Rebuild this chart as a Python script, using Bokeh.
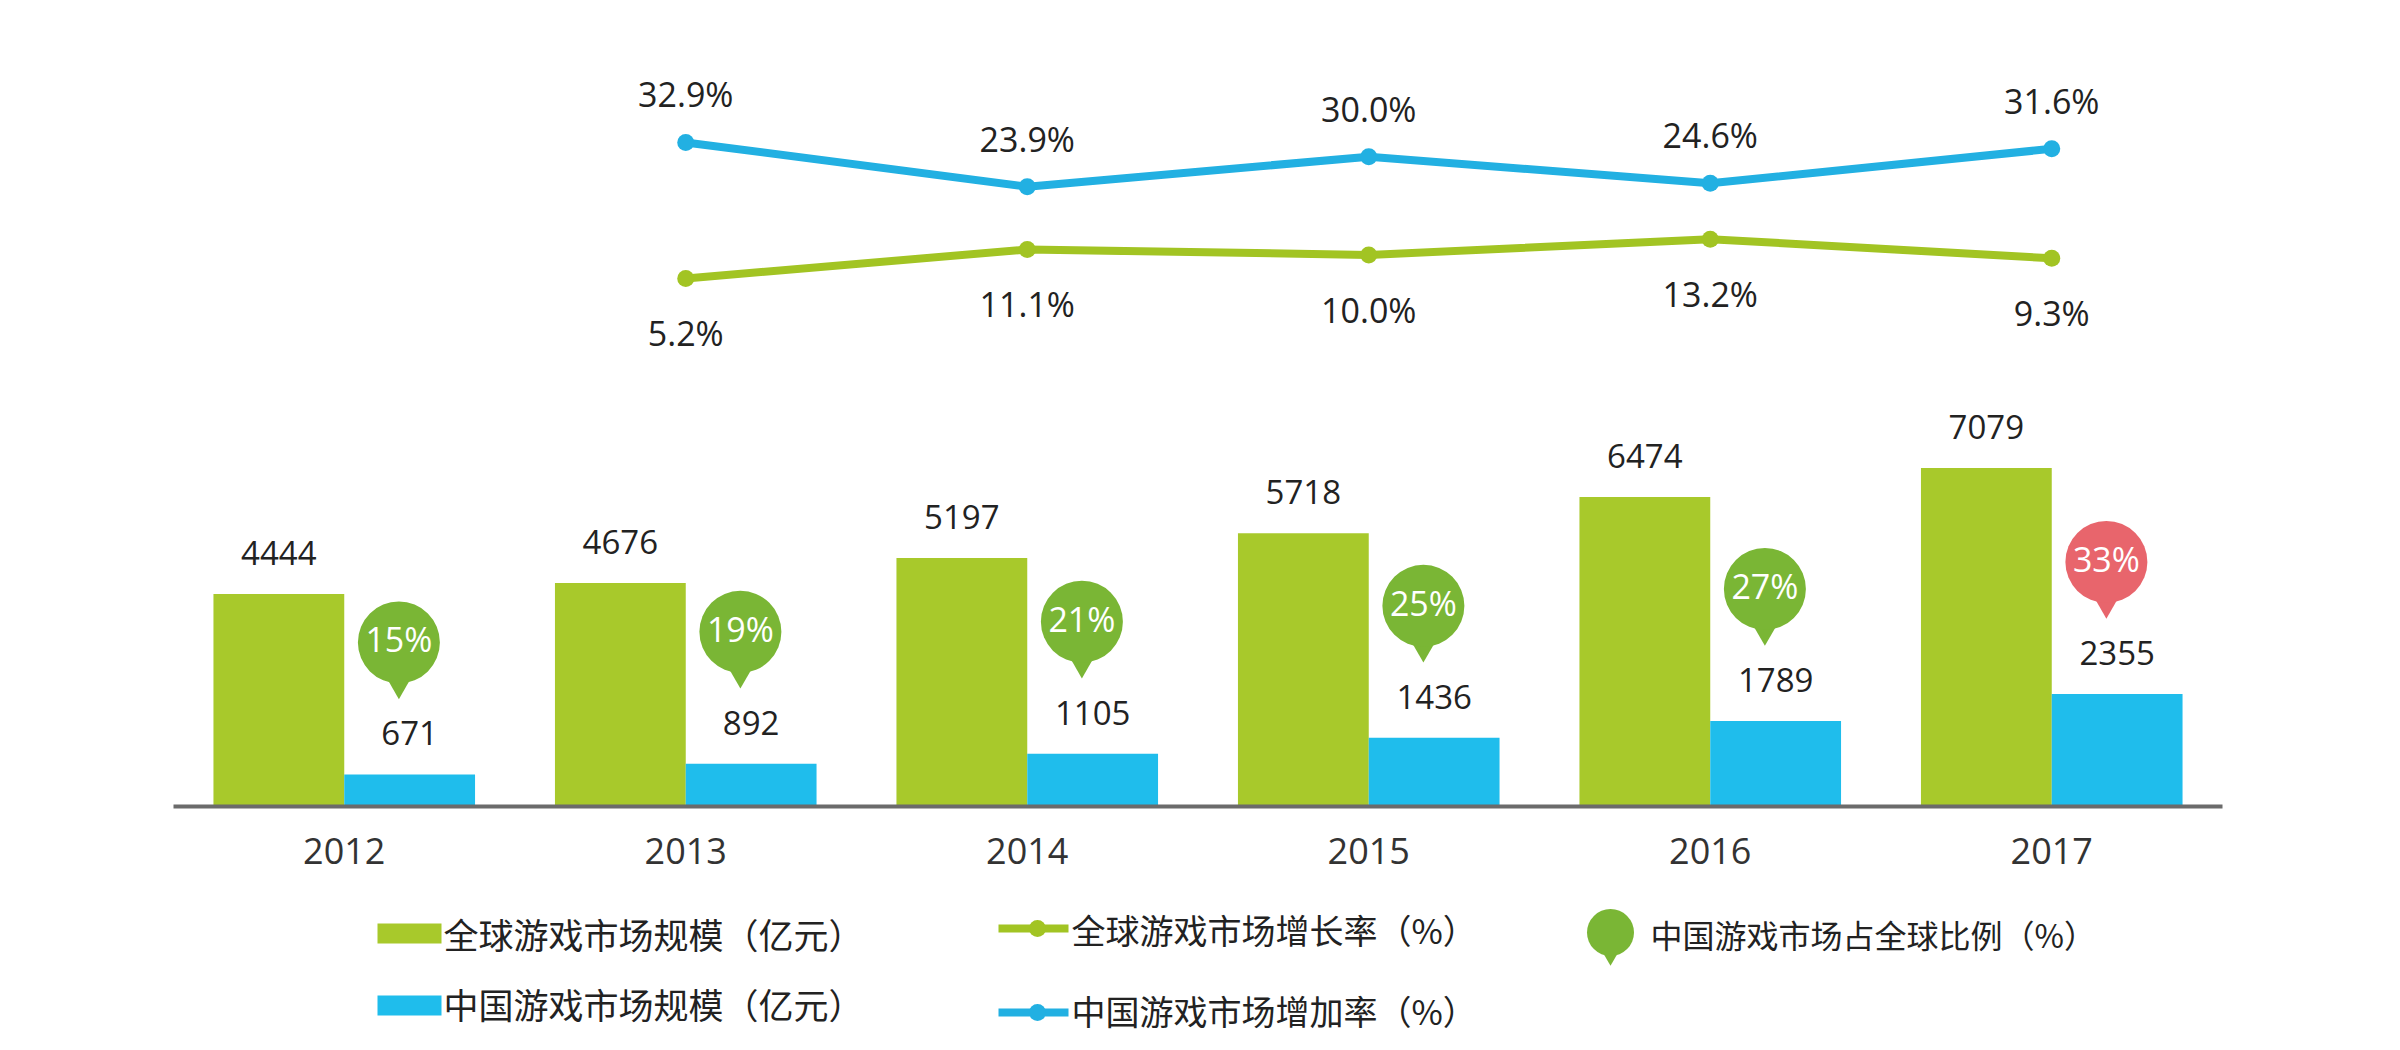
from bokeh.plotting import figure
from bokeh.models import FactorRange, Range1d, ColumnDataSource
from bokeh.transform import dodge
from bokeh.layouts import column
from bokeh.embed import file_html
from bokeh.resources import INLINE
from bokeh.core.properties import value

# ---------------- data ----------------
years = ["2012", "2013", "2014", "2015", "2016", "2017"]
global_market = [4444, 4676, 5197, 5718, 6474, 7079]      # 全球游戏市场规模（亿元）
china_market = [671, 892, 1105, 1436, 1789, 2355]          # 中国游戏市场规模（亿元）
china_share = [15, 19, 21, 25, 27, 33]                     # 中国游戏市场占全球比例（%）
growth_years = ["2013", "2014", "2015", "2016", "2017"]
global_growth = [5.2, 11.1, 10.0, 13.2, 9.3]               # 全球游戏市场增长率（%）
china_growth = [32.9, 23.9, 30.0, 24.6, 31.6]              # 中国游戏市场增加率（%）
legend_labels = ["全球游戏市场规模（亿元）", "中国游戏市场规模（亿元）",
                 "全球游戏市场增长率（%）", "中国游戏市场增加率（%）",
                 "中国游戏市场占全球比例（%）"]

# ---------------- style ----------------
GREEN_BAR = "#A8C92B"
BLUE_BAR = "#1FBDEC"
GREEN_LINE = "#A2C423"
BLUE_LINE = "#22B0E2"
BUBBLE_GREEN = "#7AB635"
BUBBLE_RED = "#E8656C"
TEXT = "#222222"
NUM_FONT = value("Open Sans")
CJK_FONT = value("Noto Sans CJK SC")

W = 2384
H_MAIN = 906
H_LEG = 1034 - H_MAIN
BORDER_L, BORDER_R, BORDER_T, BORDER_B = 173, 162, 8, 100
FRAME_H = H_MAIN - BORDER_T - BORDER_B
PX_PER_UNIT = 0.0478          # bar scale (px per 亿元)
PX_PER_PCT = 4.91             # line scale (px per %)
PCT_ZERO_FROM_TOP = 295.5     # px from frame top where 0% sits
BAR_W = 0.383
BAR_OFF = 0.1915
BUBBLE_OFF = 0.16
BUBBLE_LIFT_PX = 132
TAIL_LIFT_PX = 88

y_end = FRAME_H / PX_PER_UNIT
pct_end = PCT_ZERO_FROM_TOP / PX_PER_PCT
pct_start = -(FRAME_H - PCT_ZERO_FROM_TOP) / PX_PER_PCT

src = ColumnDataSource(dict(
    year=years,
    g=global_market,
    c=china_market,
    g_lbl=[str(v) for v in global_market],
    c_lbl=[str(v) for v in china_market],
    bubble_y=[v + BUBBLE_LIFT_PX / PX_PER_UNIT for v in china_market],
    tail_y=[v + TAIL_LIFT_PX / PX_PER_UNIT for v in china_market],
    share_lbl=[f"{s}%" for s in china_share],
    bubble_color=[BUBBLE_GREEN] * (len(years) - 1) + [BUBBLE_RED],
))
lsrc = ColumnDataSource(dict(
    year=growth_years,
    gg=global_growth,
    cg=china_growth,
    gg_lbl=[f"{v:.1f}%" for v in global_growth],
    cg_lbl=[f"{v:.1f}%" for v in china_growth],
))

p = figure(x_range=FactorRange(factors=years), y_range=Range1d(0, y_end),
           width=W, height=H_MAIN, output_backend="svg", toolbar_location=None,
           y_axis_location=None, min_border_left=BORDER_L, min_border_right=BORDER_R,
           min_border_top=BORDER_T, min_border_bottom=BORDER_B)
p.extra_y_ranges = {"pct": Range1d(pct_start, pct_end)}
p.outline_line_color = None
p.grid.visible = False
p.background_fill_color = "white"

# bars
p.vbar(x=dodge("year", -BAR_OFF, range=p.x_range), top="g", width=BAR_W, source=src,
       fill_color=GREEN_BAR, line_color=None)
p.vbar(x=dodge("year", BAR_OFF, range=p.x_range), top="c", width=BAR_W, source=src,
       fill_color=BLUE_BAR, line_color=None)
p.text(x=dodge("year", -BAR_OFF, range=p.x_range), y="g", text="g_lbl", source=src,
       y_offset=-41, text_align="center", text_baseline="middle",
       text_font=NUM_FONT, text_font_size="33px", text_color=TEXT)
p.text(x=dodge("year", BAR_OFF, range=p.x_range), y="c", text="c_lbl", source=src,
       y_offset=-41, text_align="center", text_baseline="middle",
       text_font=NUM_FONT, text_font_size="33px", text_color=TEXT)

# share bubbles
p.scatter(x=dodge("year", BUBBLE_OFF, range=p.x_range), y="tail_y", source=src,
          marker="inverted_triangle", size=22, fill_color="bubble_color", line_color=None)
p.scatter(x=dodge("year", BUBBLE_OFF, range=p.x_range), y="bubble_y", source=src,
          marker="circle", size=82, fill_color="bubble_color", line_color=None)
p.text(x=dodge("year", BUBBLE_OFF, range=p.x_range), y="bubble_y", text="share_lbl",
       source=src, y_offset=-3, text_align="center", text_baseline="middle",
       text_font=NUM_FONT, text_font_size="34px", text_color="white")

# growth lines
p.line(x="year", y="cg", source=lsrc, y_range_name="pct", line_color=BLUE_LINE, line_width=8)
p.scatter(x="year", y="cg", source=lsrc, y_range_name="pct", size=17,
          fill_color=BLUE_LINE, line_color=None)
p.line(x="year", y="gg", source=lsrc, y_range_name="pct", line_color=GREEN_LINE, line_width=8)
p.scatter(x="year", y="gg", source=lsrc, y_range_name="pct", size=17,
          fill_color=GREEN_LINE, line_color=None)
p.text(x="year", y="cg", text="cg_lbl", source=lsrc, y_range_name="pct", y_offset=-48,
       text_align="center", text_baseline="middle", text_font=NUM_FONT,
       text_font_size="34px", text_color=TEXT)
p.text(x="year", y="gg", text="gg_lbl", source=lsrc, y_range_name="pct", y_offset=55,
       text_align="center", text_baseline="middle", text_font=NUM_FONT,
       text_font_size="34px", text_color=TEXT)

ax = p.xaxis[0]
ax.axis_line_color = "#6B6B6B"
ax.axis_line_width = 4
ax.major_tick_line_color = None
ax.minor_tick_line_color = None
ax.major_label_standoff = 25
ax.major_label_text_font = "Open Sans"
ax.major_label_text_font_size = "36px"
ax.major_label_text_color = "#333333"

# ---------------- legend (key strip below chart) ----------------
# x data units == pixels of the figure (frame is aligned with the chart frame by the column)
lg = figure(width=W, height=H_LEG, x_range=Range1d(BORDER_L, W - BORDER_R),
            y_range=Range1d(H_LEG, 0), output_backend="svg", toolbar_location=None,
            x_axis_location=None, y_axis_location=None, min_border=0,
            min_border_left=BORDER_L, min_border_right=BORDER_R)
lg.outline_line_color = None
lg.grid.visible = False

lg.rect(x=[409], y=[27], width=64, height=20, fill_color=GREEN_BAR, line_color=None)
lg.rect(x=[409], y=[99], width=64, height=20, fill_color=BLUE_BAR, line_color=None)
lg.text(x=[443, 443], y=[27, 97], text=legend_labels[0:2], text_baseline="middle",
        text_font=CJK_FONT, text_font_size="35px", text_color=TEXT)

for yy, col in zip([22, 106], [GREEN_LINE, BLUE_LINE]):
    lg.line(x=[998, 1068], y=[yy, yy], line_color=col, line_width=8)
    lg.scatter(x=[1037], y=[yy], size=17, fill_color=col, line_color=None)
lg.text(x=[1071, 1071], y=[23, 104], text=legend_labels[2:4], text_baseline="middle",
        text_font=CJK_FONT, text_font_size="34px", text_color=TEXT)

lg.scatter(x=[1610], y=[50], marker="inverted_triangle", size=16,
           fill_color=BUBBLE_GREEN, line_color=None)
lg.scatter(x=[1610], y=[26], marker="circle", size=47,
           fill_color=BUBBLE_GREEN, line_color=None)
lg.text(x=[1650], y=[27], text=legend_labels[4:5], text_baseline="middle",
        text_font=CJK_FONT, text_font_size="32px", text_color=TEXT)

layout = column(p, lg, spacing=0)
open("out.html", "w").write(file_html(layout, INLINE))
